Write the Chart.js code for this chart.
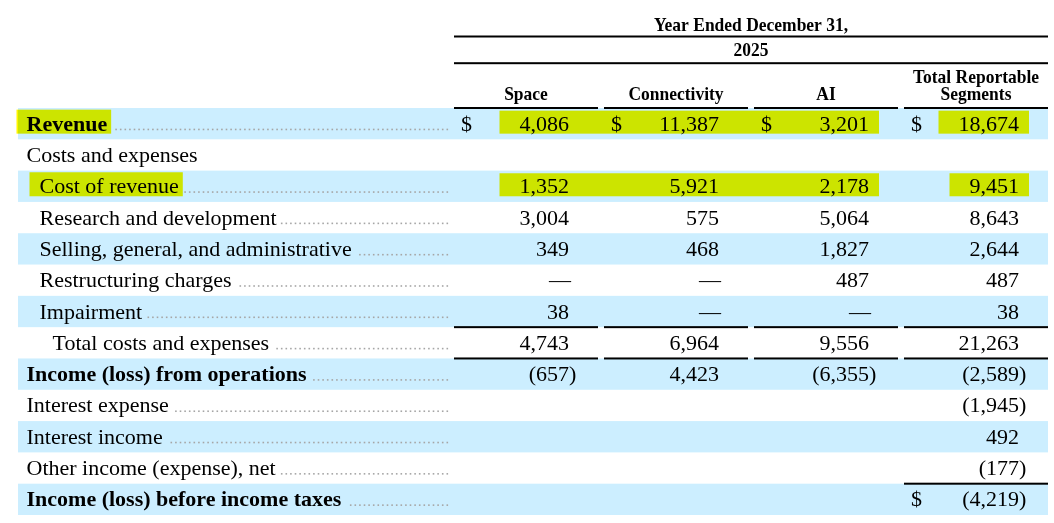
<!DOCTYPE html>
<html>
<head>
<meta charset="utf-8">
<script src="https://cdn.jsdelivr.net/npm/chart.js@4.4.1/dist/chart.umd.min.js"></script>
<style>
  html, body { margin: 0; padding: 0; background: #ffffff; }
  #wrap { width: 1054px; height: 523px; }
</style>
</head>
<body>
<div id="wrap"><canvas id="chartSegmentos" width="1054" height="523"></canvas></div>
<script>
// datos de la tabla
const periodTitle = 'Year Ended December 31,';
const periodYear = '2025';
const columns = ['Space', 'Connectivity', 'AI', 'Total Reportable Segments'];
const columnHeaders = [['Space'], ['Connectivity'], ['AI'], ['Total Reportable', 'Segments']];
const rows = [
    'Revenue',
    'Costs and expenses',
    'Cost of revenue',
    'Research and development',
    'Selling, general, and administrative',
    'Restructuring charges',
    'Impairment',
    'Total costs and expenses',
    'Income (loss) from operations',
    'Interest expense',
    'Interest income',
    'Other income (expense), net',
    'Income (loss) before income taxes'
];
// 0 se muestra como guion largo, null = celda vacia
const space = [4086, null, 1352, 3004, 349, 0, 38, 4743, -657, null, null, null, null];
const connectivity = [11387, null, 5921, 575, 468, 0, 0, 6964, 4423, null, null, null, null];
const ai = [3201, null, 2178, 5064, 1827, 487, 0, 9556, -6355, null, null, null, null];
const totalSegments = [18674, null, 9451, 8643, 2644, 487, 38, 21263, -2589, -1945, 492, -177, -4219];

const boldRows = ['Revenue', 'Income (loss) from operations', 'Income (loss) before income taxes'];
const indentRows = {
    'Cost of revenue': 1,
    'Research and development': 1,
    'Selling, general, and administrative': 1,
    'Restructuring charges': 1,
    'Impairment': 1,
    'Total costs and expenses': 2
};
const noLeaderRows = ['Costs and expenses'];
const dollarCells = {
    'Revenue': columns,
    'Income (loss) before income taxes': ['Total Reportable Segments']
};
const ruleAbove = {
    'Revenue': columns,
    'Total costs and expenses': columns,
    'Income (loss) from operations': columns,
    'Income (loss) before income taxes': ['Total Reportable Segments']
};
const highlightRows = ['Revenue', 'Cost of revenue'];
const highlightGroups = [['Space', 'Connectivity', 'AI'], ['Total Reportable Segments']];

(function () {
    const series = [space, connectivity, ai, totalSegments];
    const serif = "'Liberation Serif', 'Times New Roman', serif";
    const bodyFont = '22px ' + serif;
    const bodyBold = 'bold 22px ' + serif;
    const headFont = 'bold 19px ' + serif;

    function fmt(v) {
        if (v === 0) return '\u2014';
        return Math.abs(v).toLocaleString('en-US');
    }

    function geom(chart) {
        const xs = chart.scales.x;
        const ys = chart.scales.y;
        const colW = xs.getPixelForValue(1) - xs.getPixelForValue(0);
        const pitch = ys.getPixelForValue(1) - ys.getPixelForValue(0);
        return {
            xs: xs, ys: ys, colW: colW, pitch: pitch,
            colLeft: function (i) { return xs.getPixelForValue(i) - colW / 2; },
            numRight: function (i) { return xs.getPixelForValue(i) + colW / 2 - 35; },
            baseline: function (j) { return ys.getPixelForValue(j) + 7; },
            tableLeft: 18,
            tableRight: xs.getPixelForValue(columns.length - 1) + colW / 2 - 6,
            labelX: function (row) { return 26.5 + (indentRows[row] || 0) * 13; }
        };
    }

    // encabezado en negrita algo condensado
    function headText(c, t, x, y) {
        c.save();
        c.translate(x, y);
        c.scale(0.92, 1);
        c.fillText(t, 0, 0);
        c.restore();
    }

    const tablePlugin = {
        id: 'tablePlugin',
        beforeDatasetsDraw: function (chart) {
            const c = chart.ctx;
            const g = geom(chart);
            const top = chart.chartArea.top;
            c.save();

            // franjas azules
            c.fillStyle = '#cceeff';
            rows.forEach(function (r, j) {
                if (j % 2 !== 0) return;
                const y = g.ys.getPixelForValue(j) - g.pitch / 2;
                c.fillRect(g.tableLeft, y, g.tableRight - g.tableLeft, g.pitch);
            });

            // resaltado amarillo
            c.globalCompositeOperation = 'multiply';
            c.fillStyle = '#fff500';
            highlightRows.forEach(function (r) {
                const j = rows.indexOf(r);
                const b = g.baseline(j);
                c.font = boldRows.indexOf(r) >= 0 ? bodyBold : bodyFont;
                const lx = g.labelX(r);
                const lw = c.measureText(r).width;
                c.fillRect(lx - 10, b - 21, lw + 14, 24);
                c.font = bodyFont;
                highlightGroups.forEach(function (grp) {
                    let x0 = Infinity, x1 = -Infinity;
                    grp.forEach(function (col) {
                        const i = columns.indexOf(col);
                        const v = series[i][j];
                        if (v === null) return;
                        const right = g.numRight(i);
                        x0 = Math.min(x0, right - c.measureText(fmt(v)).width);
                        x1 = Math.max(x1, right);
                    });
                    if (x0 < x1) c.fillRect(x0 - 20, b - 20, x1 - x0 + 30, 23);
                });
            });
            c.globalCompositeOperation = 'source-over';

            // lineas del encabezado
            c.fillStyle = '#000000';
            const hx0 = g.colLeft(0);
            c.fillRect(hx0, top - 72.5, g.tableRight - hx0, 2);
            c.fillRect(hx0, top - 45.8, g.tableRight - hx0, 2);

            // lineas de subtotal
            Object.keys(ruleAbove).forEach(function (r) {
                const j = rows.indexOf(r);
                const y = g.ys.getPixelForValue(j) - g.pitch / 2;
                ruleAbove[r].forEach(function (col) {
                    const i = columns.indexOf(col);
                    c.fillRect(g.colLeft(i), y - 1, g.colW - 6, 2);
                });
            });

            // encabezados
            c.font = headFont;
            c.textAlign = 'center';
            c.textBaseline = 'alphabetic';
            const mid = (hx0 + g.tableRight) / 2;
            headText(c, periodTitle, mid, top - 77);
            headText(c, periodYear, mid, top - 52.5);
            columnHeaders.forEach(function (lines, i) {
                const cx = g.colLeft(i) + (g.colW - 6) / 2;
                lines.forEach(function (t, k) {
                    headText(c, t, cx, top - 8 - (lines.length - 1 - k) * 17);
                });
            });

            // etiquetas de fila y puntos guia
            c.textAlign = 'left';
            rows.forEach(function (r, j) {
                const b = g.baseline(j);
                const lx = g.labelX(r);
                c.font = boldRows.indexOf(r) >= 0 ? bodyBold : bodyFont;
                c.fillStyle = '#000000';
                c.fillText(r, lx, b);
                if (noLeaderRows.indexOf(r) >= 0) return;
                const end = lx + c.measureText(r).width + 4;
                c.fillStyle = '#a6a6a6';
                for (let x = g.colLeft(0) - 7.5; x > end; x -= 4.6) {
                    c.fillRect(x, b - 2, 1.6, 1.6);
                }
            });
            c.restore();
        },
        afterDatasetsDraw: function (chart) {
            const c = chart.ctx;
            const g = geom(chart);
            c.save();
            c.font = bodyFont;
            c.fillStyle = '#000000';
            c.textBaseline = 'alphabetic';
            chart.data.datasets.forEach(function (ds, di) {
                const meta = chart.getDatasetMeta(di);
                meta.data.forEach(function (pt, k) {
                    const cell = ds.data[k];
                    const b = pt.y + 7;
                    const right = pt.x + g.colW / 2 - 35;
                    c.textAlign = 'right';
                    c.fillText((cell.v < 0 ? '(' : '') + fmt(cell.v), right + (cell.v === 0 ? 2 : 0), b);
                    if (cell.v < 0) {
                        c.textAlign = 'left';
                        c.fillText(')', right, b);
                    }
                    const dl = dollarCells[cell.y];
                    if (dl && dl.indexOf(cell.x) >= 0) {
                        c.textAlign = 'left';
                        c.fillText('$', pt.x - g.colW / 2 + 7, b);
                    }
                });
            });
            c.restore();
        }
    };

    const datasets = columns.map(function (col, i) {
        return {
            label: col,
            data: rows.map(function (r, j) {
                return { x: col, y: r, v: series[i][j] };
            }).filter(function (p) { return p.v !== null; }),
            pointRadius: 0,
            pointHoverRadius: 0
        };
    });

    const ctx = document.getElementById('chartSegmentos').getContext('2d');
    new Chart(ctx, {
        type: 'scatter',
        data: { datasets: datasets },
        options: {
            responsive: false,
            animation: false,
            events: [],
            layout: { padding: { left: 454, right: 0, top: 108, bottom: 8 } },
            plugins: { legend: { display: false }, tooltip: { enabled: false } },
            scales: {
                x: { type: 'category', labels: columns, offset: true, display: false },
                y: { type: 'category', labels: rows, offset: true, display: false }
            }
        },
        plugins: [tablePlugin]
    });
})();
</script>
</body>
</html>
